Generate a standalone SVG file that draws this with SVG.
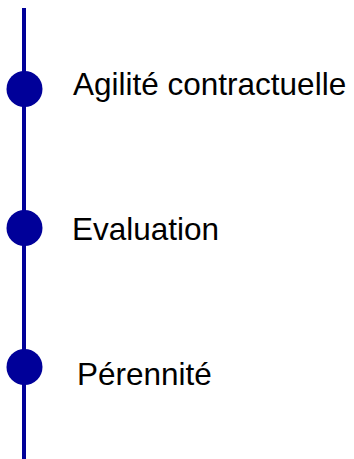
<svg xmlns="http://www.w3.org/2000/svg" width="354" height="459" viewBox="0 0 354 459">
  <style>
    .spine { stroke: #000099; stroke-width: 4; fill: none; }
    .dot { fill: #000099; }
    .label { font-family: "Liberation Sans", Arial, sans-serif; font-size: 31.5px; fill: #000000; }
  </style>
  <rect width="354" height="459" fill="#ffffff"/>
  <g id="connectors">
    <line class="spine" x1="24" y1="8" x2="24" y2="459"/>
  </g>
  <g id="node-agilite">
    <circle class="dot" cx="24.5" cy="89" r="18"/>
    <text class="label" x="73" y="95">Agilité contractuelle</text>
  </g>
  <g id="node-evaluation">
    <circle class="dot" cx="24.5" cy="228" r="18"/>
    <text class="label" x="72" y="240">Evaluation</text>
  </g>
  <g id="node-perennite">
    <circle class="dot" cx="24.5" cy="367" r="18"/>
    <text class="label" x="77" y="385">Pérennité</text>
  </g>
</svg>
